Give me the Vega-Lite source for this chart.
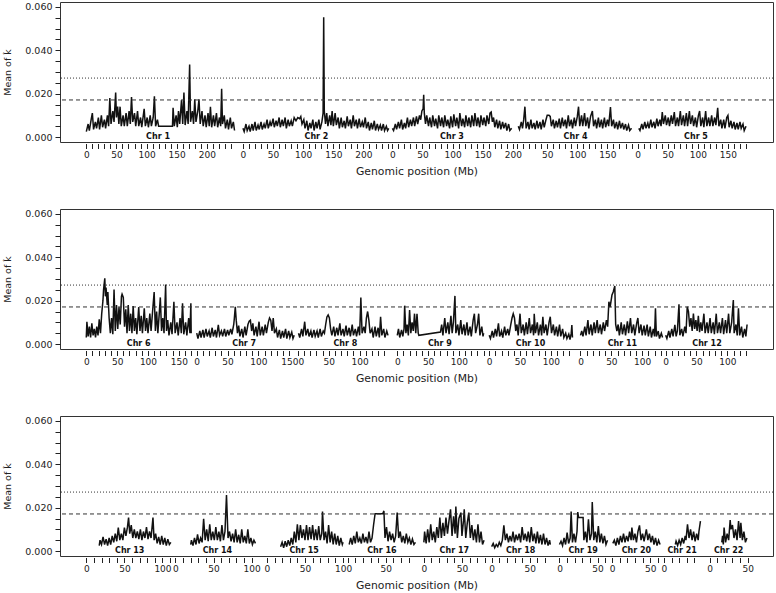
{
"$schema": "https://vega.github.io/schema/vega-lite/v6.json",
"padding": {"left": 2, "top": 1, "right": 0, "bottom": 0},
"spacing": 67,
"bounds": "flush",
"config": {
  "font": "DejaVu Sans",
  "view": {"stroke": "#333", "strokeWidth": 1},
  "axis": {"grid": false, "domain": false, "tickColor": "#222", "labelColor": "#222", "titleColor": "#222", "titleFontWeight": "normal", "tickSize": 5}
},
"datasets": {
"thr": [{"t":"a","v":0.0171},{"t":"b","v":0.0272}],
"chroms": [
{"c":1,"panel":1,"off":0,"mid":119,"label":"Chr 1"},
{"c":2,"panel":1,"off":260,"mid":122,"label":"Chr 2"},
{"c":3,"panel":1,"off":508,"mid":99,"label":"Chr 3"},
{"c":4,"panel":1,"off":715,"mid":97,"label":"Chr 4"},
{"c":5,"panel":1,"off":915,"mid":97,"label":"Chr 5"},
{"c":6,"panel":2,"off":0,"mid":85,"label":"Chr 6"},
{"c":7,"panel":2,"off":179,"mid":77,"label":"Chr 7"},
{"c":8,"panel":2,"off":343,"mid":77,"label":"Chr 8"},
{"c":9,"panel":2,"off":504,"mid":69,"label":"Chr 9"},
{"c":10,"panel":2,"off":653,"mid":67,"label":"Chr 10"},
{"c":11,"panel":2,"off":801,"mid":68,"label":"Chr 11"},
{"c":12,"panel":2,"off":939,"mid":67,"label":"Chr 12"},
{"c":13,"panel":3,"off":0,"mid":57,"label":"Chr 13"},
{"c":14,"panel":3,"off":117,"mid":55,"label":"Chr 14"},
{"c":15,"panel":3,"off":237,"mid":49,"label":"Chr 15"},
{"c":16,"panel":3,"off":343,"mid":45,"label":"Chr 16"},
{"c":17,"panel":3,"off":443,"mid":40,"label":"Chr 17"},
{"c":18,"panel":3,"off":532,"mid":38,"label":"Chr 18"},
{"c":19,"panel":3,"off":621,"mid":31,"label":"Chr 19"},
{"c":20,"panel":3,"off":690,"mid":32,"label":"Chr 20"},
{"c":21,"panel":3,"off":758,"mid":24,"label":"Chr 21"},
{"c":22,"panel":3,"off":818,"mid":25,"label":"Chr 22"}
],
"scan": [
{"c":1,"p":0,"v":0.0025},{"c":1,"p":3,"v":0.006},{"c":1,"p":5,"v":0.003},{"c":1,"p":8,"v":0.008},{"c":1,"p":10,"v":0.011},{"c":1,"p":12,"v":0.0035},{"c":1,"p":15,"v":0.007},{"c":1,"p":17,"v":0.004},{"c":1,"p":20,"v":0.009},{"c":1,"p":22,"v":0.0035},{"c":1,"p":25,"v":0.01},{"c":1,"p":27,"v":0.0045},{"c":1,"p":30,"v":0.008},{"c":1,"p":32,"v":0.004},{"c":1,"p":35,"v":0.01},{"c":1,"p":37,"v":0.005},{"c":1,"p":39,"v":0.018},{"c":1,"p":41,"v":0.006},{"c":1,"p":44,"v":0.012},{"c":1,"p":46,"v":0.007},{"c":1,"p":48.7,"v":0.0205},{"c":1,"p":50,"v":0.009},{"c":1,"p":52,"v":0.014},{"c":1,"p":54,"v":0.006},{"c":1,"p":56,"v":0.014},{"c":1,"p":58,"v":0.005},{"c":1,"p":61,"v":0.01},{"c":1,"p":63,"v":0.005},{"c":1,"p":66,"v":0.011},{"c":1,"p":68,"v":0.005},{"c":1,"p":71,"v":0.012},{"c":1,"p":73,"v":0.006},{"c":1,"p":75,"v":0.0185},{"c":1,"p":77,"v":0.007},{"c":1,"p":80,"v":0.011},{"c":1,"p":82,"v":0.005},{"c":1,"p":85,"v":0.012},{"c":1,"p":87,"v":0.005},{"c":1,"p":90,"v":0.009},{"c":1,"p":92,"v":0.0045},{"c":1,"p":96,"v":0.013},{"c":1,"p":98,"v":0.005},{"c":1,"p":101,"v":0.009},{"c":1,"p":103,"v":0.0045},{"c":1,"p":106,"v":0.01},{"c":1,"p":108,"v":0.005},{"c":1,"p":111,"v":0.009},{"c":1,"p":113,"v":0.0188},{"c":1,"p":115,"v":0.005},{"c":1,"p":118,"v":0.008},{"c":1,"p":120,"v":0.005},{"c":1,"p":143,"v":0.005},{"c":1,"p":144,"v":0.0135},{"c":1,"p":146,"v":0.005},{"c":1,"p":149,"v":0.01},{"c":1,"p":151,"v":0.0045},{"c":1,"p":153,"v":0.012},{"c":1,"p":155,"v":0.006},{"c":1,"p":158,"v":0.017},{"c":1,"p":160,"v":0.006},{"c":1,"p":162,"v":0.0205},{"c":1,"p":164,"v":0.0055},{"c":1,"p":167,"v":0.012},{"c":1,"p":169,"v":0.006},{"c":1,"p":171.5,"v":0.0334},{"c":1,"p":173,"v":0.007},{"c":1,"p":176,"v":0.012},{"c":1,"p":178,"v":0.006},{"c":1,"p":180,"v":0.0174},{"c":1,"p":182,"v":0.007},{"c":1,"p":185,"v":0.012},{"c":1,"p":187,"v":0.0174},{"c":1,"p":189,"v":0.006},{"c":1,"p":192,"v":0.012},{"c":1,"p":194,"v":0.005},{"c":1,"p":197,"v":0.01},{"c":1,"p":199,"v":0.0045},{"c":1,"p":202,"v":0.011},{"c":1,"p":204,"v":0.005},{"c":1,"p":206,"v":0.014},{"c":1,"p":208,"v":0.0045},{"c":1,"p":211,"v":0.01},{"c":1,"p":213,"v":0.005},{"c":1,"p":216,"v":0.011},{"c":1,"p":218,"v":0.0045},{"c":1,"p":221,"v":0.009},{"c":1,"p":223,"v":0.005},{"c":1,"p":224.6,"v":0.0223},{"c":1,"p":226,"v":0.006},{"c":1,"p":229,"v":0.01},{"c":1,"p":231,"v":0.004},{"c":1,"p":234,"v":0.008},{"c":1,"p":236,"v":0.0035},{"c":1,"p":239,"v":0.009},{"c":1,"p":241,"v":0.004},{"c":1,"p":244,"v":0.007},{"c":1,"p":246,"v":0.003},
{"c":2,"p":0,"v":0.004},{"c":2,"p":2,"v":0.0025},{"c":2,"p":5,"v":0.006},{"c":2,"p":7,"v":0.003},{"c":2,"p":10,"v":0.005},{"c":2,"p":12,"v":0.0025},{"c":2,"p":15,"v":0.006},{"c":2,"p":17,"v":0.003},{"c":2,"p":20,"v":0.007},{"c":2,"p":22,"v":0.003},{"c":2,"p":25,"v":0.0055},{"c":2,"p":27,"v":0.0035},{"c":2,"p":30,"v":0.007},{"c":2,"p":32,"v":0.0035},{"c":2,"p":35,"v":0.006},{"c":2,"p":37,"v":0.004},{"c":2,"p":40,"v":0.008},{"c":2,"p":42,"v":0.004},{"c":2,"p":45,"v":0.007},{"c":2,"p":47,"v":0.005},{"c":2,"p":50,"v":0.0085},{"c":2,"p":52,"v":0.0045},{"c":2,"p":55,"v":0.0075},{"c":2,"p":57,"v":0.005},{"c":2,"p":60,"v":0.009},{"c":2,"p":62,"v":0.0045},{"c":2,"p":65,"v":0.008},{"c":2,"p":67,"v":0.005},{"c":2,"p":70,"v":0.009},{"c":2,"p":72,"v":0.004},{"c":2,"p":75,"v":0.008},{"c":2,"p":77,"v":0.005},{"c":2,"p":80,"v":0.0075},{"c":2,"p":82,"v":0.005},{"c":2,"p":85,"v":0.009},{"c":2,"p":88,"v":0.0075},{"c":2,"p":91,"v":0.009},{"c":2,"p":94,"v":0.0085},{"c":2,"p":96,"v":0.0095},{"c":2,"p":98,"v":0.006},{"c":2,"p":101,"v":0.008},{"c":2,"p":103,"v":0.004},{"c":2,"p":106,"v":0.0075},{"c":2,"p":108,"v":0.003},{"c":2,"p":111,"v":0.0065},{"c":2,"p":113,"v":0.004},{"c":2,"p":116,"v":0.008},{"c":2,"p":118,"v":0.003},{"c":2,"p":121,"v":0.007},{"c":2,"p":123,"v":0.004},{"c":2,"p":126,"v":0.008},{"c":2,"p":128,"v":0.0035},{"c":2,"p":131,"v":0.007},{"c":2,"p":133,"v":0.011},{"c":2,"p":134,"v":0.0553},{"c":2,"p":135,"v":0.012},{"c":2,"p":137,"v":0.006},{"c":2,"p":139,"v":0.011},{"c":2,"p":141,"v":0.005},{"c":2,"p":144,"v":0.01},{"c":2,"p":146,"v":0.0055},{"c":2,"p":148,"v":0.012},{"c":2,"p":150,"v":0.005},{"c":2,"p":153,"v":0.011},{"c":2,"p":155,"v":0.0055},{"c":2,"p":158,"v":0.009},{"c":2,"p":160,"v":0.004},{"c":2,"p":163,"v":0.009},{"c":2,"p":165,"v":0.0045},{"c":2,"p":168,"v":0.0075},{"c":2,"p":170,"v":0.004},{"c":2,"p":173,"v":0.0095},{"c":2,"p":175,"v":0.005},{"c":2,"p":178,"v":0.008},{"c":2,"p":180,"v":0.004},{"c":2,"p":183,"v":0.01},{"c":2,"p":185,"v":0.005},{"c":2,"p":188,"v":0.008},{"c":2,"p":190,"v":0.004},{"c":2,"p":193,"v":0.0085},{"c":2,"p":195,"v":0.0045},{"c":2,"p":198,"v":0.007},{"c":2,"p":200,"v":0.0045},{"c":2,"p":203,"v":0.009},{"c":2,"p":205,"v":0.004},{"c":2,"p":208,"v":0.007},{"c":2,"p":210,"v":0.003},{"c":2,"p":213,"v":0.0065},{"c":2,"p":215,"v":0.0035},{"c":2,"p":218,"v":0.0075},{"c":2,"p":220,"v":0.003},{"c":2,"p":223,"v":0.006},{"c":2,"p":225,"v":0.0035},{"c":2,"p":228,"v":0.0055},{"c":2,"p":230,"v":0.003},{"c":2,"p":233,"v":0.006},{"c":2,"p":235,"v":0.003},{"c":2,"p":238,"v":0.005},{"c":2,"p":240,"v":0.003},{"c":2,"p":242,"v":0.004},
{"c":3,"p":0,"v":0.004},{"c":3,"p":2,"v":0.003},{"c":3,"p":5,"v":0.006},{"c":3,"p":7,"v":0.0035},{"c":3,"p":10,"v":0.007},{"c":3,"p":12,"v":0.004},{"c":3,"p":15,"v":0.008},{"c":3,"p":17,"v":0.0035},{"c":3,"p":20,"v":0.0065},{"c":3,"p":22,"v":0.004},{"c":3,"p":25,"v":0.009},{"c":3,"p":27,"v":0.0045},{"c":3,"p":30,"v":0.008},{"c":3,"p":32,"v":0.005},{"c":3,"p":35,"v":0.009},{"c":3,"p":37,"v":0.005},{"c":3,"p":40,"v":0.0095},{"c":3,"p":42,"v":0.006},{"c":3,"p":45,"v":0.01},{"c":3,"p":47,"v":0.008},{"c":3,"p":49,"v":0.012},{"c":3,"p":51,"v":0.013},{"c":3,"p":52,"v":0.0195},{"c":3,"p":53,"v":0.011},{"c":3,"p":55,"v":0.006},{"c":3,"p":57,"v":0.01},{"c":3,"p":60,"v":0.005},{"c":3,"p":62,"v":0.009},{"c":3,"p":65,"v":0.0045},{"c":3,"p":67,"v":0.01},{"c":3,"p":70,"v":0.005},{"c":3,"p":72,"v":0.0085},{"c":3,"p":75,"v":0.004},{"c":3,"p":77,"v":0.01},{"c":3,"p":80,"v":0.005},{"c":3,"p":82,"v":0.009},{"c":3,"p":85,"v":0.0045},{"c":3,"p":87,"v":0.01},{"c":3,"p":90,"v":0.005},{"c":3,"p":92,"v":0.008},{"c":3,"p":95,"v":0.004},{"c":3,"p":97,"v":0.0095},{"c":3,"p":100,"v":0.0045},{"c":3,"p":102,"v":0.0105},{"c":3,"p":105,"v":0.005},{"c":3,"p":107,"v":0.009},{"c":3,"p":110,"v":0.004},{"c":3,"p":112,"v":0.011},{"c":3,"p":115,"v":0.005},{"c":3,"p":117,"v":0.0085},{"c":3,"p":120,"v":0.0045},{"c":3,"p":122,"v":0.01},{"c":3,"p":125,"v":0.005},{"c":3,"p":127,"v":0.009},{"c":3,"p":130,"v":0.0045},{"c":3,"p":132,"v":0.01},{"c":3,"p":135,"v":0.005},{"c":3,"p":137,"v":0.011},{"c":3,"p":140,"v":0.005},{"c":3,"p":142,"v":0.009},{"c":3,"p":145,"v":0.0045},{"c":3,"p":147,"v":0.01},{"c":3,"p":150,"v":0.0055},{"c":3,"p":152,"v":0.009},{"c":3,"p":155,"v":0.005},{"c":3,"p":157,"v":0.01},{"c":3,"p":160,"v":0.006},{"c":3,"p":162,"v":0.011},{"c":3,"p":164,"v":0.0115},{"c":3,"p":166,"v":0.007},{"c":3,"p":168,"v":0.009},{"c":3,"p":170,"v":0.0045},{"c":3,"p":173,"v":0.008},{"c":3,"p":175,"v":0.004},{"c":3,"p":178,"v":0.0075},{"c":3,"p":180,"v":0.0035},{"c":3,"p":183,"v":0.007},{"c":3,"p":185,"v":0.004},{"c":3,"p":188,"v":0.0065},{"c":3,"p":190,"v":0.003},{"c":3,"p":193,"v":0.006},{"c":3,"p":195,"v":0.003},{"c":3,"p":198,"v":0.004},
{"c":4,"p":2,"v":0.005},{"c":4,"p":4,"v":0.0035},{"c":4,"p":7,"v":0.007},{"c":4,"p":9,"v":0.004},{"c":4,"p":11,"v":0.008},{"c":4,"p":13,"v":0.014},{"c":4,"p":15,"v":0.004},{"c":4,"p":18,"v":0.007},{"c":4,"p":20,"v":0.0035},{"c":4,"p":23,"v":0.008},{"c":4,"p":25,"v":0.004},{"c":4,"p":28,"v":0.0065},{"c":4,"p":30,"v":0.0035},{"c":4,"p":33,"v":0.0075},{"c":4,"p":35,"v":0.004},{"c":4,"p":38,"v":0.007},{"c":4,"p":40,"v":0.0035},{"c":4,"p":43,"v":0.008},{"c":4,"p":45,"v":0.0045},{"c":4,"p":48,"v":0.008},{"c":4,"p":50,"v":0.01},{"c":4,"p":53,"v":0.01},{"c":4,"p":55,"v":0.0095},{"c":4,"p":57,"v":0.005},{"c":4,"p":60,"v":0.008},{"c":4,"p":62,"v":0.004},{"c":4,"p":65,"v":0.0075},{"c":4,"p":67,"v":0.0045},{"c":4,"p":70,"v":0.0085},{"c":4,"p":72,"v":0.004},{"c":4,"p":75,"v":0.009},{"c":4,"p":77,"v":0.005},{"c":4,"p":80,"v":0.008},{"c":4,"p":82,"v":0.004},{"c":4,"p":85,"v":0.01},{"c":4,"p":87,"v":0.005},{"c":4,"p":90,"v":0.008},{"c":4,"p":92,"v":0.004},{"c":4,"p":95,"v":0.009},{"c":4,"p":97,"v":0.005},{"c":4,"p":100,"v":0.0095},{"c":4,"p":102,"v":0.014},{"c":4,"p":104,"v":0.005},{"c":4,"p":107,"v":0.01},{"c":4,"p":109,"v":0.005},{"c":4,"p":112,"v":0.011},{"c":4,"p":114,"v":0.005},{"c":4,"p":117,"v":0.009},{"c":4,"p":119,"v":0.004},{"c":4,"p":122,"v":0.0095},{"c":4,"p":125,"v":0.012},{"c":4,"p":127,"v":0.005},{"c":4,"p":130,"v":0.008},{"c":4,"p":132,"v":0.004},{"c":4,"p":135,"v":0.009},{"c":4,"p":137,"v":0.0045},{"c":4,"p":140,"v":0.008},{"c":4,"p":142,"v":0.004},{"c":4,"p":145,"v":0.009},{"c":4,"p":147,"v":0.0045},{"c":4,"p":150,"v":0.008},{"c":4,"p":152,"v":0.005},{"c":4,"p":155,"v":0.0138},{"c":4,"p":157,"v":0.005},{"c":4,"p":160,"v":0.008},{"c":4,"p":162,"v":0.004},{"c":4,"p":165,"v":0.007},{"c":4,"p":167,"v":0.0035},{"c":4,"p":170,"v":0.0075},{"c":4,"p":172,"v":0.004},{"c":4,"p":175,"v":0.0065},{"c":4,"p":177,"v":0.0035},{"c":4,"p":180,"v":0.006},{"c":4,"p":182,"v":0.003},{"c":4,"p":185,"v":0.0055},{"c":4,"p":187,"v":0.003},{"c":4,"p":190,"v":0.004},
{"c":5,"p":2,"v":0.004},{"c":5,"p":4,"v":0.003},{"c":5,"p":7,"v":0.006},{"c":5,"p":9,"v":0.0035},{"c":5,"p":12,"v":0.007},{"c":5,"p":14,"v":0.004},{"c":5,"p":17,"v":0.0065},{"c":5,"p":19,"v":0.004},{"c":5,"p":22,"v":0.008},{"c":5,"p":24,"v":0.0045},{"c":5,"p":27,"v":0.007},{"c":5,"p":29,"v":0.004},{"c":5,"p":32,"v":0.0085},{"c":5,"p":34,"v":0.005},{"c":5,"p":37,"v":0.008},{"c":5,"p":39,"v":0.005},{"c":5,"p":41,"v":0.0115},{"c":5,"p":43,"v":0.006},{"c":5,"p":46,"v":0.01},{"c":5,"p":48,"v":0.0055},{"c":5,"p":51,"v":0.009},{"c":5,"p":53,"v":0.005},{"c":5,"p":56,"v":0.01},{"c":5,"p":58,"v":0.006},{"c":5,"p":61,"v":0.0115},{"c":5,"p":63,"v":0.005},{"c":5,"p":66,"v":0.009},{"c":5,"p":68,"v":0.005},{"c":5,"p":71,"v":0.012},{"c":5,"p":73,"v":0.0055},{"c":5,"p":76,"v":0.01},{"c":5,"p":78,"v":0.005},{"c":5,"p":81,"v":0.011},{"c":5,"p":83,"v":0.005},{"c":5,"p":86,"v":0.012},{"c":5,"p":88,"v":0.006},{"c":5,"p":91,"v":0.01},{"c":5,"p":93,"v":0.005},{"c":5,"p":96,"v":0.009},{"c":5,"p":98,"v":0.0045},{"c":5,"p":101,"v":0.01},{"c":5,"p":103,"v":0.012},{"c":5,"p":105,"v":0.005},{"c":5,"p":108,"v":0.009},{"c":5,"p":110,"v":0.0045},{"c":5,"p":113,"v":0.012},{"c":5,"p":115,"v":0.005},{"c":5,"p":118,"v":0.009},{"c":5,"p":120,"v":0.005},{"c":5,"p":123,"v":0.01},{"c":5,"p":125,"v":0.005},{"c":5,"p":128,"v":0.009},{"c":5,"p":130,"v":0.0055},{"c":5,"p":133,"v":0.0135},{"c":5,"p":135,"v":0.005},{"c":5,"p":138,"v":0.008},{"c":5,"p":140,"v":0.004},{"c":5,"p":143,"v":0.008},{"c":5,"p":145,"v":0.004},{"c":5,"p":148,"v":0.009},{"c":5,"p":150,"v":0.01},{"c":5,"p":152,"v":0.0045},{"c":5,"p":155,"v":0.0075},{"c":5,"p":157,"v":0.004},{"c":5,"p":160,"v":0.007},{"c":5,"p":162,"v":0.0035},{"c":5,"p":165,"v":0.0065},{"c":5,"p":167,"v":0.0035},{"c":5,"p":170,"v":0.007},{"c":5,"p":172,"v":0.004},{"c":5,"p":175,"v":0.006},{"c":5,"p":177,"v":0.003},{"c":5,"p":180,"v":0.005},
{"c":6,"p":0,"v":0.003},{"c":6,"p":1,"v":0.0103},{"c":6,"p":3,"v":0.0035},{"c":6,"p":5,"v":0.008},{"c":6,"p":7,"v":0.003},{"c":6,"p":9,"v":0.0095},{"c":6,"p":11,"v":0.004},{"c":6,"p":13,"v":0.007},{"c":6,"p":15,"v":0.003},{"c":6,"p":17,"v":0.008},{"c":6,"p":19,"v":0.004},{"c":6,"p":21,"v":0.0114},{"c":6,"p":23,"v":0.005},{"c":6,"p":25,"v":0.014},{"c":6,"p":27,"v":0.02},{"c":6,"p":28,"v":0.025},{"c":6,"p":30,"v":0.0303},{"c":6,"p":31,"v":0.022},{"c":6,"p":32,"v":0.026},{"c":6,"p":34,"v":0.018},{"c":6,"p":35,"v":0.024},{"c":6,"p":37,"v":0.012},{"c":6,"p":39,"v":0.005},{"c":6,"p":41,"v":0.012},{"c":6,"p":43,"v":0.0045},{"c":6,"p":45,"v":0.0252},{"c":6,"p":47,"v":0.006},{"c":6,"p":49,"v":0.018},{"c":6,"p":51,"v":0.007},{"c":6,"p":53,"v":0.017},{"c":6,"p":55,"v":0.009},{"c":6,"p":57,"v":0.022},{"c":6,"p":58,"v":0.023},{"c":6,"p":60,"v":0.0215},{"c":6,"p":62,"v":0.008},{"c":6,"p":64,"v":0.016},{"c":6,"p":66,"v":0.005},{"c":6,"p":68,"v":0.018},{"c":6,"p":70,"v":0.006},{"c":6,"p":72,"v":0.014},{"c":6,"p":74,"v":0.005},{"c":6,"p":76,"v":0.0175},{"c":6,"p":78,"v":0.006},{"c":6,"p":80,"v":0.012},{"c":6,"p":82,"v":0.0045},{"c":6,"p":85,"v":0.017},{"c":6,"p":87,"v":0.006},{"c":6,"p":89,"v":0.013},{"c":6,"p":91,"v":0.005},{"c":6,"p":94,"v":0.0165},{"c":6,"p":96,"v":0.006},{"c":6,"p":98,"v":0.012},{"c":6,"p":100,"v":0.005},{"c":6,"p":103,"v":0.014},{"c":6,"p":105,"v":0.006},{"c":6,"p":108,"v":0.017},{"c":6,"p":110,"v":0.024},{"c":6,"p":112,"v":0.006},{"c":6,"p":114,"v":0.015},{"c":6,"p":116,"v":0.005},{"c":6,"p":118,"v":0.013},{"c":6,"p":120,"v":0.0215},{"c":6,"p":122,"v":0.006},{"c":6,"p":124,"v":0.012},{"c":6,"p":126,"v":0.005},{"c":6,"p":128.6,"v":0.0275},{"c":6,"p":130,"v":0.006},{"c":6,"p":132,"v":0.011},{"c":6,"p":134,"v":0.004},{"c":6,"p":137,"v":0.01},{"c":6,"p":139,"v":0.0045},{"c":6,"p":142,"v":0.0195},{"c":6,"p":144,"v":0.005},{"c":6,"p":147,"v":0.01},{"c":6,"p":149,"v":0.004},{"c":6,"p":152,"v":0.012},{"c":6,"p":154,"v":0.005},{"c":6,"p":156,"v":0.0188},{"c":6,"p":158,"v":0.0045},{"c":6,"p":161,"v":0.01},{"c":6,"p":163,"v":0.004},{"c":6,"p":166,"v":0.012},{"c":6,"p":168,"v":0.005},{"c":6,"p":169.5,"v":0.0188},{"c":6,"p":170,"v":0.005},
{"c":7,"p":0,"v":0.005},{"c":7,"p":2,"v":0.0025},{"c":7,"p":5,"v":0.006},{"c":7,"p":7,"v":0.003},{"c":7,"p":10,"v":0.0065},{"c":7,"p":12,"v":0.003},{"c":7,"p":15,"v":0.007},{"c":7,"p":17,"v":0.0035},{"c":7,"p":20,"v":0.006},{"c":7,"p":22,"v":0.003},{"c":7,"p":25,"v":0.0075},{"c":7,"p":27,"v":0.0035},{"c":7,"p":30,"v":0.0065},{"c":7,"p":32,"v":0.003},{"c":7,"p":35,"v":0.0088},{"c":7,"p":37,"v":0.004},{"c":7,"p":40,"v":0.006},{"c":7,"p":42,"v":0.0035},{"c":7,"p":45,"v":0.007},{"c":7,"p":47,"v":0.0035},{"c":7,"p":50,"v":0.0065},{"c":7,"p":52,"v":0.004},{"c":7,"p":55,"v":0.007},{"c":7,"p":57,"v":0.0045},{"c":7,"p":60,"v":0.009},{"c":7,"p":61,"v":0.012},{"c":7,"p":62.5,"v":0.0172},{"c":7,"p":64,"v":0.011},{"c":7,"p":66,"v":0.005},{"c":7,"p":68,"v":0.0085},{"c":7,"p":70,"v":0.0035},{"c":7,"p":73,"v":0.007},{"c":7,"p":75,"v":0.003},{"c":7,"p":78,"v":0.008},{"c":7,"p":80,"v":0.004},{"c":7,"p":83,"v":0.009},{"c":7,"p":85,"v":0.0105},{"c":7,"p":87,"v":0.011},{"c":7,"p":89,"v":0.006},{"c":7,"p":91,"v":0.0095},{"c":7,"p":93,"v":0.004},{"c":7,"p":96,"v":0.008},{"c":7,"p":98,"v":0.0035},{"c":7,"p":101,"v":0.0103},{"c":7,"p":103,"v":0.004},{"c":7,"p":106,"v":0.008},{"c":7,"p":108,"v":0.004},{"c":7,"p":111,"v":0.009},{"c":7,"p":113,"v":0.005},{"c":7,"p":116,"v":0.01},{"c":7,"p":118,"v":0.012},{"c":7,"p":120,"v":0.011},{"c":7,"p":122,"v":0.006},{"c":7,"p":124,"v":0.012},{"c":7,"p":126,"v":0.005},{"c":7,"p":129,"v":0.007},{"c":7,"p":131,"v":0.003},{"c":7,"p":134,"v":0.0065},{"c":7,"p":136,"v":0.0025},{"c":7,"p":139,"v":0.006},{"c":7,"p":141,"v":0.003},{"c":7,"p":144,"v":0.007},{"c":7,"p":146,"v":0.0025},{"c":7,"p":149,"v":0.006},{"c":7,"p":151,"v":0.003},{"c":7,"p":154,"v":0.0055},{"c":7,"p":156,"v":0.0025},{"c":7,"p":158,"v":0.004},
{"c":8,"p":1,"v":0.005},{"c":8,"p":3,"v":0.003},{"c":8,"p":6,"v":0.007},{"c":8,"p":8,"v":0.0035},{"c":8,"p":11,"v":0.0103},{"c":8,"p":13,"v":0.004},{"c":8,"p":16,"v":0.007},{"c":8,"p":18,"v":0.0035},{"c":8,"p":21,"v":0.006},{"c":8,"p":23,"v":0.003},{"c":8,"p":26,"v":0.0065},{"c":8,"p":28,"v":0.0035},{"c":8,"p":31,"v":0.006},{"c":8,"p":33,"v":0.003},{"c":8,"p":36,"v":0.007},{"c":8,"p":38,"v":0.0035},{"c":8,"p":41,"v":0.006},{"c":8,"p":43,"v":0.005},{"c":8,"p":45,"v":0.009},{"c":8,"p":47,"v":0.0125},{"c":8,"p":49,"v":0.0134},{"c":8,"p":51,"v":0.012},{"c":8,"p":53,"v":0.007},{"c":8,"p":55,"v":0.004},{"c":8,"p":58,"v":0.008},{"c":8,"p":60,"v":0.0035},{"c":8,"p":63,"v":0.0075},{"c":8,"p":65,"v":0.004},{"c":8,"p":68,"v":0.0095},{"c":8,"p":70,"v":0.004},{"c":8,"p":73,"v":0.007},{"c":8,"p":75,"v":0.0035},{"c":8,"p":78,"v":0.0085},{"c":8,"p":80,"v":0.004},{"c":8,"p":83,"v":0.0075},{"c":8,"p":85,"v":0.0035},{"c":8,"p":88,"v":0.009},{"c":8,"p":90,"v":0.004},{"c":8,"p":93,"v":0.007},{"c":8,"p":95,"v":0.0035},{"c":8,"p":98,"v":0.008},{"c":8,"p":100,"v":0.004},{"c":8,"p":102,"v":0.0215},{"c":8,"p":104,"v":0.005},{"c":8,"p":107,"v":0.008},{"c":8,"p":109,"v":0.005},{"c":8,"p":111,"v":0.012},{"c":8,"p":113,"v":0.015},{"c":8,"p":115,"v":0.011},{"c":8,"p":117,"v":0.005},{"c":8,"p":120,"v":0.007},{"c":8,"p":122,"v":0.003},{"c":8,"p":125,"v":0.008},{"c":8,"p":127,"v":0.0035},{"c":8,"p":130,"v":0.0075},{"c":8,"p":132,"v":0.003},{"c":8,"p":134,"v":0.0126},{"c":8,"p":136,"v":0.004},{"c":8,"p":139,"v":0.007},{"c":8,"p":141,"v":0.003},{"c":8,"p":144,"v":0.006},{"c":8,"p":146,"v":0.004},
{"c":9,"p":0,"v":0.004},{"c":9,"p":2,"v":0.007},{"c":9,"p":4,"v":0.003},{"c":9,"p":7,"v":0.0065},{"c":9,"p":9,"v":0.0035},{"c":9,"p":11,"v":0.007},{"c":9,"p":12,"v":0.0177},{"c":9,"p":14,"v":0.005},{"c":9,"p":16,"v":0.009},{"c":9,"p":18,"v":0.004},{"c":9,"p":20,"v":0.0157},{"c":9,"p":22,"v":0.005},{"c":9,"p":24,"v":0.01},{"c":9,"p":26,"v":0.006},{"c":9,"p":28,"v":0.014},{"c":9,"p":30,"v":0.005},{"c":9,"p":32,"v":0.014},{"c":9,"p":34,"v":0.005},{"c":9,"p":35,"v":0.004},{"c":9,"p":70,"v":0.0055},{"c":9,"p":72,"v":0.009},{"c":9,"p":74,"v":0.004},{"c":9,"p":77,"v":0.012},{"c":9,"p":79,"v":0.005},{"c":9,"p":82,"v":0.01},{"c":9,"p":84,"v":0.0045},{"c":9,"p":87,"v":0.013},{"c":9,"p":89,"v":0.005},{"c":9,"p":91,"v":0.01},{"c":9,"p":93.5,"v":0.0222},{"c":9,"p":95,"v":0.005},{"c":9,"p":98,"v":0.009},{"c":9,"p":100,"v":0.004},{"c":9,"p":103,"v":0.011},{"c":9,"p":105,"v":0.0045},{"c":9,"p":108,"v":0.009},{"c":9,"p":110,"v":0.004},{"c":9,"p":113,"v":0.01},{"c":9,"p":115,"v":0.004},{"c":9,"p":118,"v":0.008},{"c":9,"p":120,"v":0.0035},{"c":9,"p":123,"v":0.011},{"c":9,"p":125,"v":0.014},{"c":9,"p":127,"v":0.005},{"c":9,"p":130,"v":0.009},{"c":9,"p":132,"v":0.014},{"c":9,"p":134,"v":0.004},{"c":9,"p":137,"v":0.008},{"c":9,"p":139,"v":0.0035},{"c":9,"p":140,"v":0.005},
{"c":10,"p":0,"v":0.004},{"c":10,"p":2,"v":0.0025},{"c":10,"p":5,"v":0.006},{"c":10,"p":7,"v":0.003},{"c":10,"p":10,"v":0.007},{"c":10,"p":12,"v":0.0035},{"c":10,"p":15,"v":0.0095},{"c":10,"p":17,"v":0.0035},{"c":10,"p":20,"v":0.006},{"c":10,"p":22,"v":0.003},{"c":10,"p":25,"v":0.008},{"c":10,"p":27,"v":0.004},{"c":10,"p":30,"v":0.007},{"c":10,"p":32,"v":0.004},{"c":10,"p":35,"v":0.009},{"c":10,"p":37,"v":0.012},{"c":10,"p":39,"v":0.014},{"c":10,"p":41,"v":0.012},{"c":10,"p":43,"v":0.006},{"c":10,"p":45,"v":0.009},{"c":10,"p":47,"v":0.004},{"c":10,"p":50,"v":0.014},{"c":10,"p":52,"v":0.005},{"c":10,"p":55,"v":0.009},{"c":10,"p":57,"v":0.004},{"c":10,"p":60,"v":0.01},{"c":10,"p":62,"v":0.0045},{"c":10,"p":65,"v":0.012},{"c":10,"p":67,"v":0.005},{"c":10,"p":70,"v":0.009},{"c":10,"p":72,"v":0.004},{"c":10,"p":73,"v":0.014},{"c":10,"p":75,"v":0.005},{"c":10,"p":78,"v":0.01},{"c":10,"p":80,"v":0.004},{"c":10,"p":83,"v":0.009},{"c":10,"p":85,"v":0.004},{"c":10,"p":87,"v":0.0126},{"c":10,"p":89,"v":0.005},{"c":10,"p":92,"v":0.009},{"c":10,"p":94,"v":0.004},{"c":10,"p":97,"v":0.01},{"c":10,"p":99,"v":0.0126},{"c":10,"p":101,"v":0.005},{"c":10,"p":104,"v":0.009},{"c":10,"p":106,"v":0.004},{"c":10,"p":109,"v":0.008},{"c":10,"p":111,"v":0.0035},{"c":10,"p":114,"v":0.009},{"c":10,"p":116,"v":0.0035},{"c":10,"p":119,"v":0.007},{"c":10,"p":121,"v":0.003},{"c":10,"p":124,"v":0.005},{"c":10,"p":126,"v":0.0025},{"c":10,"p":129,"v":0.0045},{"c":10,"p":131,"v":0.002},{"c":10,"p":133,"v":0.005},{"c":10,"p":134,"v":0.0088},{"c":10,"p":135,"v":0.003},
{"c":11,"p":0,"v":0.004},{"c":11,"p":2,"v":0.006},{"c":11,"p":4,"v":0.0035},{"c":11,"p":7,"v":0.008},{"c":11,"p":9,"v":0.004},{"c":11,"p":12,"v":0.011},{"c":11,"p":14,"v":0.0045},{"c":11,"p":17,"v":0.009},{"c":11,"p":19,"v":0.004},{"c":11,"p":22,"v":0.01},{"c":11,"p":24,"v":0.005},{"c":11,"p":27,"v":0.011},{"c":11,"p":29,"v":0.005},{"c":11,"p":32,"v":0.009},{"c":11,"p":34,"v":0.0045},{"c":11,"p":37,"v":0.01},{"c":11,"p":39,"v":0.006},{"c":11,"p":42,"v":0.011},{"c":11,"p":44,"v":0.008},{"c":11,"p":46,"v":0.0195},{"c":11,"p":48,"v":0.017},{"c":11,"p":51,"v":0.0226},{"c":11,"p":53,"v":0.024},{"c":11,"p":55.6,"v":0.0268},{"c":11,"p":57,"v":0.009},{"c":11,"p":59,"v":0.006},{"c":11,"p":61,"v":0.009},{"c":11,"p":63,"v":0.004},{"c":11,"p":66,"v":0.01},{"c":11,"p":68,"v":0.0045},{"c":11,"p":71,"v":0.009},{"c":11,"p":73,"v":0.004},{"c":11,"p":76,"v":0.0105},{"c":11,"p":78,"v":0.005},{"c":11,"p":81,"v":0.012},{"c":11,"p":83,"v":0.005},{"c":11,"p":86,"v":0.009},{"c":11,"p":88,"v":0.004},{"c":11,"p":91,"v":0.0095},{"c":11,"p":93,"v":0.012},{"c":11,"p":95,"v":0.005},{"c":11,"p":98,"v":0.009},{"c":11,"p":100,"v":0.004},{"c":11,"p":103,"v":0.0085},{"c":11,"p":105,"v":0.004},{"c":11,"p":108,"v":0.009},{"c":11,"p":110,"v":0.0035},{"c":11,"p":113,"v":0.008},{"c":11,"p":115,"v":0.003},{"c":11,"p":118,"v":0.007},{"c":11,"p":120,"v":0.0035},{"c":11,"p":121.5,"v":0.0165},{"c":11,"p":123,"v":0.0035},{"c":11,"p":126,"v":0.006},{"c":11,"p":128,"v":0.0025},{"c":11,"p":131,"v":0.005},{"c":11,"p":133,"v":0.003},
{"c":12,"p":0,"v":0.004},{"c":12,"p":2,"v":0.0025},{"c":12,"p":5,"v":0.006},{"c":12,"p":7,"v":0.003},{"c":12,"p":10,"v":0.007},{"c":12,"p":12,"v":0.0035},{"c":12,"p":15,"v":0.0088},{"c":12,"p":17,"v":0.0035},{"c":12,"p":19,"v":0.006},{"c":12,"p":21.6,"v":0.0183},{"c":12,"p":23,"v":0.004},{"c":12,"p":26,"v":0.007},{"c":12,"p":28,"v":0.0035},{"c":12,"p":31,"v":0.008},{"c":12,"p":33,"v":0.005},{"c":12,"p":35,"v":0.0172},{"c":12,"p":37,"v":0.015},{"c":12,"p":39,"v":0.008},{"c":12,"p":41,"v":0.012},{"c":12,"p":43,"v":0.006},{"c":12,"p":45,"v":0.014},{"c":12,"p":47,"v":0.007},{"c":12,"p":49,"v":0.011},{"c":12,"p":51,"v":0.006},{"c":12,"p":53,"v":0.013},{"c":12,"p":55,"v":0.0055},{"c":12,"p":57,"v":0.01},{"c":12,"p":59,"v":0.006},{"c":12,"p":62,"v":0.014},{"c":12,"p":64,"v":0.005},{"c":12,"p":67,"v":0.01},{"c":12,"p":69,"v":0.005},{"c":12,"p":72,"v":0.012},{"c":12,"p":74,"v":0.005},{"c":12,"p":77,"v":0.01},{"c":12,"p":79,"v":0.0045},{"c":12,"p":82,"v":0.014},{"c":12,"p":84,"v":0.005},{"c":12,"p":87,"v":0.01},{"c":12,"p":89,"v":0.005},{"c":12,"p":92,"v":0.012},{"c":12,"p":94,"v":0.0045},{"c":12,"p":97,"v":0.011},{"c":12,"p":99,"v":0.005},{"c":12,"p":102,"v":0.014},{"c":12,"p":104,"v":0.005},{"c":12,"p":107,"v":0.01},{"c":12,"p":109.7,"v":0.0203},{"c":12,"p":111,"v":0.005},{"c":12,"p":114,"v":0.009},{"c":12,"p":116,"v":0.004},{"c":12,"p":118,"v":0.0165},{"c":12,"p":120,"v":0.004},{"c":12,"p":123,"v":0.008},{"c":12,"p":125,"v":0.003},{"c":12,"p":128,"v":0.007},{"c":12,"p":130,"v":0.0035},{"c":12,"p":132,"v":0.009},
{"c":13,"p":17,"v":0.0025},{"c":13,"p":18,"v":0.005},{"c":13,"p":20,"v":0.003},{"c":13,"p":22,"v":0.0065},{"c":13,"p":24,"v":0.003},{"c":13,"p":26,"v":0.0055},{"c":13,"p":28,"v":0.0025},{"c":13,"p":30,"v":0.006},{"c":13,"p":32,"v":0.003},{"c":13,"p":34,"v":0.007},{"c":13,"p":36,"v":0.004},{"c":13,"p":38,"v":0.008},{"c":13,"p":40,"v":0.0045},{"c":13,"p":42,"v":0.0108},{"c":13,"p":44,"v":0.005},{"c":13,"p":46,"v":0.008},{"c":13,"p":48,"v":0.005},{"c":13,"p":50,"v":0.0108},{"c":13,"p":52,"v":0.007},{"c":13,"p":54,"v":0.011},{"c":13,"p":55.5,"v":0.0154},{"c":13,"p":57,"v":0.008},{"c":13,"p":59,"v":0.012},{"c":13,"p":61,"v":0.006},{"c":13,"p":63,"v":0.01},{"c":13,"p":65,"v":0.006},{"c":13,"p":67,"v":0.009},{"c":13,"p":69,"v":0.0055},{"c":13,"p":71,"v":0.01},{"c":13,"p":73,"v":0.005},{"c":13,"p":75,"v":0.009},{"c":13,"p":77,"v":0.006},{"c":13,"p":79,"v":0.011},{"c":13,"p":81,"v":0.0055},{"c":13,"p":83,"v":0.009},{"c":13,"p":85,"v":0.006},{"c":13,"p":87.5,"v":0.0154},{"c":13,"p":89,"v":0.005},{"c":13,"p":91,"v":0.008},{"c":13,"p":93,"v":0.0035},{"c":13,"p":95,"v":0.0065},{"c":13,"p":97,"v":0.003},{"c":13,"p":99,"v":0.007},{"c":13,"p":101,"v":0.003},{"c":13,"p":103,"v":0.006},{"c":13,"p":105,"v":0.0025},{"c":13,"p":107,"v":0.0055},{"c":13,"p":109,"v":0.003},{"c":13,"p":111,"v":0.004},
{"c":14,"p":20,"v":0.003},{"c":14,"p":21,"v":0.005},{"c":14,"p":23,"v":0.0025},{"c":14,"p":25,"v":0.006},{"c":14,"p":27,"v":0.003},{"c":14,"p":29,"v":0.0077},{"c":14,"p":31,"v":0.0035},{"c":14,"p":33,"v":0.006},{"c":14,"p":35,"v":0.004},{"c":14,"p":37,"v":0.0149},{"c":14,"p":39,"v":0.005},{"c":14,"p":41,"v":0.01},{"c":14,"p":43,"v":0.0045},{"c":14,"p":45,"v":0.0123},{"c":14,"p":47,"v":0.005},{"c":14,"p":49,"v":0.009},{"c":14,"p":51,"v":0.005},{"c":14,"p":53,"v":0.011},{"c":14,"p":55,"v":0.005},{"c":14,"p":57,"v":0.009},{"c":14,"p":59,"v":0.0045},{"c":14,"p":61,"v":0.012},{"c":14,"p":63,"v":0.005},{"c":14,"p":65,"v":0.009},{"c":14,"p":67,"v":0.0258},{"c":14,"p":69,"v":0.006},{"c":14,"p":71,"v":0.009},{"c":14,"p":73,"v":0.0045},{"c":14,"p":75,"v":0.008},{"c":14,"p":77,"v":0.004},{"c":14,"p":79,"v":0.01},{"c":14,"p":81,"v":0.004},{"c":14,"p":83,"v":0.0075},{"c":14,"p":85,"v":0.0035},{"c":14,"p":87,"v":0.01},{"c":14,"p":89,"v":0.004},{"c":14,"p":91,"v":0.007},{"c":14,"p":93,"v":0.0035},{"c":14,"p":95,"v":0.01},{"c":14,"p":97,"v":0.0035},{"c":14,"p":99,"v":0.006},{"c":14,"p":101,"v":0.003},{"c":14,"p":103,"v":0.005},{"c":14,"p":105,"v":0.0035},
{"c":15,"p":18,"v":0.002},{"c":15,"p":20,"v":0.004},{"c":15,"p":22,"v":0.0015},{"c":15,"p":24,"v":0.0045},{"c":15,"p":26,"v":0.002},{"c":15,"p":28,"v":0.005},{"c":15,"p":30,"v":0.0025},{"c":15,"p":32,"v":0.006},{"c":15,"p":34,"v":0.003},{"c":15,"p":36,"v":0.009},{"c":15,"p":38,"v":0.004},{"c":15,"p":40,"v":0.0123},{"c":15,"p":42,"v":0.005},{"c":15,"p":44,"v":0.012},{"c":15,"p":46,"v":0.006},{"c":15,"p":48,"v":0.01},{"c":15,"p":50,"v":0.005},{"c":15,"p":52,"v":0.012},{"c":15,"p":54,"v":0.005},{"c":15,"p":56,"v":0.011},{"c":15,"p":58,"v":0.0055},{"c":15,"p":60,"v":0.012},{"c":15,"p":62,"v":0.005},{"c":15,"p":64,"v":0.01},{"c":15,"p":66,"v":0.005},{"c":15,"p":68,"v":0.0115},{"c":15,"p":70,"v":0.005},{"c":15,"p":72,"v":0.008},{"c":15,"p":73,"v":0.0182},{"c":15,"p":75,"v":0.005},{"c":15,"p":77,"v":0.009},{"c":15,"p":79,"v":0.0035},{"c":15,"p":81,"v":0.012},{"c":15,"p":83,"v":0.004},{"c":15,"p":85,"v":0.009},{"c":15,"p":87,"v":0.003},{"c":15,"p":89,"v":0.008},{"c":15,"p":91,"v":0.003},{"c":15,"p":93,"v":0.007},{"c":15,"p":95,"v":0.0025},{"c":15,"p":97,"v":0.006},{"c":15,"p":99,"v":0.003},{"c":15,"p":100,"v":0.004},
{"c":16,"p":2,"v":0.003},{"c":16,"p":4,"v":0.006},{"c":16,"p":6,"v":0.003},{"c":16,"p":8,"v":0.007},{"c":16,"p":10,"v":0.0035},{"c":16,"p":12,"v":0.009},{"c":16,"p":14,"v":0.004},{"c":16,"p":16,"v":0.006},{"c":16,"p":18,"v":0.0035},{"c":16,"p":20,"v":0.008},{"c":16,"p":22,"v":0.004},{"c":16,"p":24,"v":0.0065},{"c":16,"p":26,"v":0.0035},{"c":16,"p":28,"v":0.009},{"c":16,"p":30,"v":0.004},{"c":16,"p":32,"v":0.006},{"c":16,"p":34,"v":0.012},{"c":16,"p":36,"v":0.0172},{"c":16,"p":46,"v":0.0172},{"c":16,"p":47.6,"v":0.0185},{"c":16,"p":49,"v":0.006},{"c":16,"p":51,"v":0.011},{"c":16,"p":53,"v":0.0045},{"c":16,"p":55,"v":0.009},{"c":16,"p":57,"v":0.005},{"c":16,"p":59,"v":0.008},{"c":16,"p":61,"v":0.004},{"c":16,"p":63,"v":0.007},{"c":16,"p":65,"v":0.0177},{"c":16,"p":67,"v":0.006},{"c":16,"p":69,"v":0.009},{"c":16,"p":71,"v":0.004},{"c":16,"p":73,"v":0.007},{"c":16,"p":75,"v":0.0035},{"c":16,"p":77,"v":0.008},{"c":16,"p":79,"v":0.004},{"c":16,"p":81,"v":0.006},{"c":16,"p":83,"v":0.003},{"c":16,"p":85,"v":0.0055},{"c":16,"p":87,"v":0.003},{"c":16,"p":89,"v":0.004},
{"c":17,"p":0,"v":0.004},{"c":17,"p":1,"v":0.009},{"c":17,"p":3,"v":0.0035},{"c":17,"p":5,"v":0.01},{"c":17,"p":7,"v":0.004},{"c":17,"p":9,"v":0.0123},{"c":17,"p":11,"v":0.005},{"c":17,"p":13,"v":0.009},{"c":17,"p":15,"v":0.004},{"c":17,"p":17,"v":0.011},{"c":17,"p":19,"v":0.006},{"c":17,"p":21,"v":0.0154},{"c":17,"p":23,"v":0.006},{"c":17,"p":25,"v":0.013},{"c":17,"p":27,"v":0.007},{"c":17,"p":29,"v":0.0154},{"c":17,"p":31,"v":0.008},{"c":17,"p":33,"v":0.014},{"c":17,"p":35,"v":0.0192},{"c":17,"p":37,"v":0.007},{"c":17,"p":39,"v":0.016},{"c":17,"p":41,"v":0.008},{"c":17,"p":42,"v":0.0205},{"c":17,"p":44,"v":0.006},{"c":17,"p":46,"v":0.015},{"c":17,"p":48.6,"v":0.0177},{"c":17,"p":50,"v":0.007},{"c":17,"p":52,"v":0.014},{"c":17,"p":53,"v":0.0192},{"c":17,"p":55,"v":0.006},{"c":17,"p":57,"v":0.013},{"c":17,"p":59,"v":0.0177},{"c":17,"p":61,"v":0.006},{"c":17,"p":63,"v":0.012},{"c":17,"p":65,"v":0.005},{"c":17,"p":67,"v":0.01},{"c":17,"p":69,"v":0.004},{"c":17,"p":71,"v":0.0123},{"c":17,"p":73,"v":0.004},{"c":17,"p":75,"v":0.009},{"c":17,"p":77,"v":0.003},{"c":17,"p":79,"v":0.005},
{"c":18,"p":0,"v":0.002},{"c":18,"p":2,"v":0.0035},{"c":18,"p":4,"v":0.0015},{"c":18,"p":6,"v":0.003},{"c":18,"p":8,"v":0.002},{"c":18,"p":10,"v":0.004},{"c":18,"p":12,"v":0.0025},{"c":18,"p":14,"v":0.005},{"c":18,"p":16,"v":0.0118},{"c":18,"p":18,"v":0.005},{"c":18,"p":20,"v":0.008},{"c":18,"p":22,"v":0.004},{"c":18,"p":24,"v":0.007},{"c":18,"p":26,"v":0.0045},{"c":18,"p":28,"v":0.009},{"c":18,"p":30,"v":0.004},{"c":18,"p":32,"v":0.0075},{"c":18,"p":34,"v":0.005},{"c":18,"p":36,"v":0.008},{"c":18,"p":38,"v":0.004},{"c":18,"p":40,"v":0.011},{"c":18,"p":42,"v":0.005},{"c":18,"p":44,"v":0.008},{"c":18,"p":46,"v":0.0045},{"c":18,"p":48,"v":0.009},{"c":18,"p":50,"v":0.004},{"c":18,"p":52,"v":0.011},{"c":18,"p":54,"v":0.0045},{"c":18,"p":56,"v":0.008},{"c":18,"p":58,"v":0.0035},{"c":18,"p":60,"v":0.009},{"c":18,"p":62,"v":0.0035},{"c":18,"p":64,"v":0.0075},{"c":18,"p":66,"v":0.003},{"c":18,"p":68,"v":0.008},{"c":18,"p":70,"v":0.003},{"c":18,"p":72,"v":0.006},{"c":18,"p":74,"v":0.0025},{"c":18,"p":76,"v":0.005},{"c":18,"p":77,"v":0.003},
{"c":19,"p":0,"v":0.003},{"c":19,"p":2,"v":0.0045},{"c":19,"p":4,"v":0.0025},{"c":19,"p":6,"v":0.006},{"c":19,"p":8,"v":0.003},{"c":19,"p":10,"v":0.0085},{"c":19,"p":12,"v":0.0035},{"c":19,"p":14,"v":0.006},{"c":19,"p":15.3,"v":0.0182},{"c":19,"p":17,"v":0.004},{"c":19,"p":19,"v":0.008},{"c":19,"p":21,"v":0.004},{"c":19,"p":23,"v":0.009},{"c":19,"p":24,"v":0.018},{"c":19,"p":25,"v":0.0155},{"c":19,"p":31,"v":0.0155},{"c":19,"p":32,"v":0.005},{"c":19,"p":34,"v":0.009},{"c":19,"p":36,"v":0.004},{"c":19,"p":38,"v":0.0146},{"c":19,"p":40,"v":0.005},{"c":19,"p":42,"v":0.008},{"c":19,"p":43,"v":0.0226},{"c":19,"p":45,"v":0.005},{"c":19,"p":47,"v":0.009},{"c":19,"p":49,"v":0.004},{"c":19,"p":51,"v":0.0115},{"c":19,"p":53,"v":0.004},{"c":19,"p":55,"v":0.008},{"c":19,"p":57,"v":0.0035},{"c":19,"p":59,"v":0.007},{"c":19,"p":61,"v":0.003},{"c":19,"p":63,"v":0.005},
{"c":20,"p":1,"v":0.0035},{"c":20,"p":3,"v":0.005},{"c":20,"p":5,"v":0.0025},{"c":20,"p":7,"v":0.006},{"c":20,"p":9,"v":0.003},{"c":20,"p":11,"v":0.007},{"c":20,"p":13,"v":0.004},{"c":20,"p":15,"v":0.008},{"c":20,"p":17,"v":0.004},{"c":20,"p":19,"v":0.007},{"c":20,"p":21,"v":0.0045},{"c":20,"p":23,"v":0.009},{"c":20,"p":25,"v":0.005},{"c":20,"p":26,"v":0.0108},{"c":20,"p":28,"v":0.005},{"c":20,"p":30,"v":0.008},{"c":20,"p":32,"v":0.004},{"c":20,"p":34,"v":0.009},{"c":20,"p":36,"v":0.0118},{"c":20,"p":38,"v":0.005},{"c":20,"p":40,"v":0.008},{"c":20,"p":42,"v":0.0045},{"c":20,"p":45,"v":0.01},{"c":20,"p":47,"v":0.005},{"c":20,"p":49,"v":0.008},{"c":20,"p":51,"v":0.004},{"c":20,"p":53,"v":0.007},{"c":20,"p":55,"v":0.003},{"c":20,"p":57,"v":0.006},{"c":20,"p":59,"v":0.0025},{"c":20,"p":61,"v":0.005},{"c":20,"p":63,"v":0.003},
{"c":21,"p":15,"v":0.003},{"c":21,"p":16,"v":0.0045},{"c":21,"p":18,"v":0.0025},{"c":21,"p":20,"v":0.005},{"c":21,"p":22,"v":0.003},{"c":21,"p":24,"v":0.006},{"c":21,"p":26,"v":0.0035},{"c":21,"p":28,"v":0.007},{"c":21,"p":29,"v":0.005},{"c":21,"p":31,"v":0.0123},{"c":21,"p":33,"v":0.006},{"c":21,"p":35,"v":0.01},{"c":21,"p":37,"v":0.005},{"c":21,"p":39,"v":0.009},{"c":21,"p":41,"v":0.0045},{"c":21,"p":43,"v":0.008},{"c":21,"p":45,"v":0.005},{"c":21,"p":46,"v":0.009},{"c":21,"p":48,"v":0.0138},
{"c":22,"p":16,"v":0.004},{"c":22,"p":17,"v":0.007},{"c":22,"p":18,"v":0.003},{"c":22,"p":19,"v":0.0108},{"c":22,"p":21,"v":0.004},{"c":22,"p":23,"v":0.008},{"c":22,"p":25,"v":0.005},{"c":22,"p":27,"v":0.0143},{"c":22,"p":28,"v":0.01},{"c":22,"p":30,"v":0.012},{"c":22,"p":32,"v":0.006},{"c":22,"p":34,"v":0.01},{"c":22,"p":36,"v":0.005},{"c":22,"p":38,"v":0.0138},{"c":22,"p":40,"v":0.006},{"c":22,"p":41,"v":0.013},{"c":22,"p":43,"v":0.005},{"c":22,"p":45,"v":0.009},{"c":22,"p":47,"v":0.004},{"c":22,"p":49,"v":0.006}
]
},
"vconcat": [
{
"width": 713, "height": 140,
"layer": [
{"data": {"name": "scan"},
 "transform": [{"lookup": "c", "from": {"data": {"name": "chroms"}, "key": "c", "fields": ["off", "panel"]}}, {"filter": "datum.panel == 1"}, {"calculate": "datum.p + datum.off", "as": "g"}],
 "mark": {"type": "line", "color": "#111", "strokeWidth": 1.5},
 "encoding": {
  "x": {"field": "g", "type": "quantitative", "scale": {"domain": [-43.7, 1139.8], "nice": false, "zero": false},
   "axis": {"title": "Genomic position (Mb)", "titleFontSize": 10.8, "titlePadding": 6, "labelFontSize": 9, "labelPadding": 2, "offset": 1.5, "tickCount": 300, "labelOverlap": false, "labelFlush": false, "labelBound": false,
    "values": [0,10,20,30,40,50,60,70,80,90,100,110,120,130,140,150,160,170,180,190,200,210,220,230,240,260,270,280,290,300,310,320,330,340,350,360,370,380,390,400,410,420,430,440,450,460,470,480,490,500,508,518,528,538,548,558,568,578,588,598,608,618,628,638,648,658,668,678,688,698,708,715,725,735,745,755,765,775,785,795,805,815,825,835,845,855,865,875,885,895,905,915,925,935,945,955,965,975,985,995,1005,1015,1025,1035,1045,1055,1065,1075,1085,1095],
    "labelExpr": "(datum.value<250?datum.value:datum.value<504?datum.value-260:datum.value<712?datum.value-508:datum.value<910?datum.value-715:datum.value-915)%50==0&&datum.value!=715?''+(datum.value<250?datum.value:datum.value<504?datum.value-260:datum.value<712?datum.value-508:datum.value<910?datum.value-715:datum.value-915):''"}},
  "y": {"field": "v", "type": "quantitative", "scale": {"domain": [-0.0023, 0.0623], "nice": false, "zero": false},
   "axis": {"title": "Mean of k̂", "titleFontSize": 9.5, "titlePadding": 12, "labelFontSize": 9.5, "labelPadding": 3, "tickCount": 50, "labelOverlap": false,
    "values": [0,0.005,0.01,0.015,0.02,0.025,0.03,0.035,0.04,0.045,0.05,0.055,0.06],
    "labelExpr": "round(datum.value*1000)%20==0?format(datum.value,'.3f'):''"}},
  "detail": {"field": "c", "type": "nominal"}
 }},
{"data": {"name": "thr"}, "mark": {"type": "rule", "color": "#333", "strokeWidth": 1},
 "encoding": {"y": {"field": "v", "type": "quantitative", "title": "Mean of k̂"}, "strokeDash": {"field": "t", "type": "nominal", "scale": {"domain": ["a", "b"], "range": [[4, 3], [1, 2]]}, "legend": null}}},
{"data": {"name": "chroms"}, "transform": [{"filter": "datum.panel == 1"}, {"calculate": "datum.mid + datum.off", "as": "g"}],
 "mark": {"type": "text", "fontWeight": "bold", "fontSize": 8, "color": "#111", "baseline": "middle"},
 "encoding": {"x": {"field": "g", "type": "quantitative", "title": "Genomic position (Mb)"}, "y": {"datum": 0.0002}, "text": {"field": "label"}}}
]
},
{
"width": 713, "height": 140,
"layer": [
{"data": {"name": "scan"},
 "transform": [{"lookup": "c", "from": {"data": {"name": "chroms"}, "key": "c", "fields": ["off", "panel"]}}, {"filter": "datum.panel == 2"}, {"calculate": "datum.p + datum.off", "as": "g"}],
 "mark": {"type": "line", "color": "#111", "strokeWidth": 1.5},
 "encoding": {
  "x": {"field": "g", "type": "quantitative", "scale": {"domain": [-42.6, 1113], "nice": false, "zero": false},
   "axis": {"title": "Genomic position (Mb)", "titleFontSize": 10.8, "titlePadding": 6, "labelFontSize": 9, "labelPadding": 2, "offset": 1.5, "tickCount": 300, "labelOverlap": false, "labelFlush": false, "labelBound": false,
    "labelAlign": {"condition": {"test": "datum.value == 343", "value": "left"}, "value": "center"},
    "values": [0,10,20,30,40,50,60,70,80,90,100,110,120,130,140,150,160,170,179,189,199,209,219,229,239,249,259,269,279,289,299,309,319,329,343,353,363,373,383,393,403,413,423,433,443,453,463,473,483,504,514,524,534,544,554,564,574,584,594,604,614,624,634,644,653,663,673,683,693,703,713,723,733,743,753,763,773,783,801,811,821,831,841,851,861,871,881,891,901,911,921,931,939,949,959,969,979,989,999,1009,1019,1029,1039,1049,1059,1069],
    "labelExpr": "(datum.value<175?datum.value:datum.value<340?datum.value-179:datum.value<500?datum.value-343:datum.value<650?datum.value-504:datum.value<795?datum.value-653:datum.value<935?datum.value-801:datum.value-939)%50==0?''+(datum.value<175?datum.value:datum.value<340?datum.value-179:datum.value<500?datum.value-343:datum.value<650?datum.value-504:datum.value<795?datum.value-653:datum.value<935?datum.value-801:datum.value-939):''"}},
  "y": {"field": "v", "type": "quantitative", "scale": {"domain": [-0.0023, 0.0623], "nice": false, "zero": false},
   "axis": {"title": "Mean of k̂", "titleFontSize": 9.5, "titlePadding": 12, "labelFontSize": 9.5, "labelPadding": 3, "tickCount": 50, "labelOverlap": false,
    "values": [0,0.005,0.01,0.015,0.02,0.025,0.03,0.035,0.04,0.045,0.05,0.055,0.06],
    "labelExpr": "round(datum.value*1000)%20==0?format(datum.value,'.3f'):''"}},
  "detail": {"field": "c", "type": "nominal"}
 }},
{"data": {"name": "thr"}, "mark": {"type": "rule", "color": "#333", "strokeWidth": 1},
 "encoding": {"y": {"field": "v", "type": "quantitative", "title": "Mean of k̂"}, "strokeDash": {"field": "t", "type": "nominal", "scale": {"domain": ["a", "b"], "range": [[4, 3], [1, 2]]}, "legend": null}}},
{"data": {"name": "chroms"}, "transform": [{"filter": "datum.panel == 2"}, {"calculate": "datum.mid + datum.off", "as": "g"}],
 "mark": {"type": "text", "fontWeight": "bold", "fontSize": 8, "color": "#111", "baseline": "middle"},
 "encoding": {"x": {"field": "g", "type": "quantitative", "title": "Genomic position (Mb)"}, "y": {"datum": 0.0002}, "text": {"field": "label"}}}
]
},
{
"width": 713, "height": 140,
"layer": [
{"data": {"name": "scan"},
 "transform": [{"lookup": "c", "from": {"data": {"name": "chroms"}, "key": "c", "fields": ["off", "panel"]}}, {"filter": "datum.panel == 3"}, {"calculate": "datum.p + datum.off", "as": "g"}],
 "mark": {"type": "line", "color": "#111", "strokeWidth": 1.5},
 "encoding": {
  "x": {"field": "g", "type": "quantitative", "scale": {"domain": [-34.5, 901.2], "nice": false, "zero": false},
   "axis": {"title": "Genomic position (Mb)", "titleFontSize": 10.8, "titlePadding": 6, "labelFontSize": 9, "labelPadding": 2, "offset": 1.5, "tickCount": 300, "labelOverlap": false, "labelFlush": false, "labelBound": false,
    "values": [0,10,20,30,40,50,60,70,80,90,100,110,117,127,137,147,157,167,177,187,197,207,217,237,247,257,267,277,287,297,307,317,327,337,343,353,363,373,383,393,403,413,423,443,453,463,473,483,493,503,513,523,532,542,552,562,572,582,592,602,621,631,641,651,661,671,681,690,700,710,720,730,740,750,758,768,778,788,798,818,828,838,848,858,868],
    "labelExpr": "(datum.value<115?datum.value:datum.value<235?datum.value-117:datum.value<340?datum.value-237:datum.value<440?datum.value-343:datum.value<530?datum.value-443:datum.value<615?datum.value-532:datum.value<685?datum.value-621:datum.value<755?datum.value-690:datum.value<815?datum.value-758:datum.value-818)%50==0&&datum.value!=343?''+(datum.value<115?datum.value:datum.value<235?datum.value-117:datum.value<340?datum.value-237:datum.value<440?datum.value-343:datum.value<530?datum.value-443:datum.value<615?datum.value-532:datum.value<685?datum.value-621:datum.value<755?datum.value-690:datum.value<815?datum.value-758:datum.value-818):''"}},
  "y": {"field": "v", "type": "quantitative", "scale": {"domain": [-0.0023, 0.0623], "nice": false, "zero": false},
   "axis": {"title": "Mean of k̂", "titleFontSize": 9.5, "titlePadding": 12, "labelFontSize": 9.5, "labelPadding": 3, "tickCount": 50, "labelOverlap": false,
    "values": [0,0.005,0.01,0.015,0.02,0.025,0.03,0.035,0.04,0.045,0.05,0.055,0.06],
    "labelExpr": "round(datum.value*1000)%20==0?format(datum.value,'.3f'):''"}},
  "detail": {"field": "c", "type": "nominal"}
 }},
{"data": {"name": "thr"}, "mark": {"type": "rule", "color": "#333", "strokeWidth": 1},
 "encoding": {"y": {"field": "v", "type": "quantitative", "title": "Mean of k̂"}, "strokeDash": {"field": "t", "type": "nominal", "scale": {"domain": ["a", "b"], "range": [[4, 3], [1, 2]]}, "legend": null}}},
{"data": {"name": "chroms"}, "transform": [{"filter": "datum.panel == 3"}, {"calculate": "datum.mid + datum.off", "as": "g"}],
 "mark": {"type": "text", "fontWeight": "bold", "fontSize": 8, "color": "#111", "baseline": "middle"},
 "encoding": {"x": {"field": "g", "type": "quantitative", "title": "Genomic position (Mb)"}, "y": {"datum": 0.0002}, "text": {"field": "label"}}}
]
}
]
}
